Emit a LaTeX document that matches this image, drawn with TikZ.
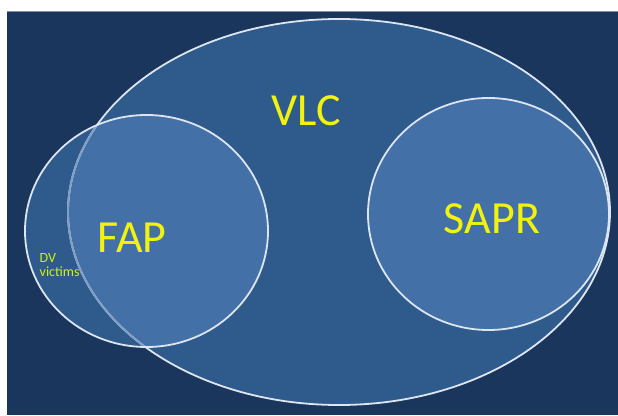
\documentclass[tikz,border=0pt]{standalone}
\usepackage{fontspec}
\setmainfont{Carlito}
\usepackage{tikz}

\definecolor{navybg}{HTML}{1A365D}
\definecolor{vlcblue}{HTML}{2F5A8C}
\definecolor{setblue}{HTML}{4470A8}
\definecolor{rimwhite}{HTML}{DCE5F0}
\definecolor{labelyellow}{HTML}{F2F20F}

\begin{document}
\begin{tikzpicture}[x=1pt, y=1pt,
    rim/.style={draw=rimwhite, line width=1.8pt},
    biglabel/.style={font=\fontsize{46}{50}\selectfont, text=labelyellow, inner sep=0pt},
    smalllabel/.style={font=\fontsize{14}{14.5}\selectfont, text=labelyellow!85!green, inner sep=0pt, align=left}]

\useasboundingbox (0,0) rectangle (618,415);

% Background panel
\fill[navybg] (7,0) rectangle (618,404);
\draw[navybg!55!white, line width=0.6pt] (7,404) -- (618,404);

% Set centres
\coordinate (vlc) at (339,203);
\coordinate (fap) at (146.5,184);
\coordinate (sapr) at (488.5,201);

% Fills: VLC first, then the two inner sets clipped to it
\fill[vlcblue] (fap) ellipse [x radius=121.5, y radius=116];
\fill[vlcblue] (vlc) ellipse [x radius=271, y radius=193];
\begin{scope}
    \clip (vlc) ellipse [x radius=271, y radius=193];
    \fill[setblue] (fap) ellipse [x radius=121.5, y radius=116];
    \fill[setblue] (sapr) ellipse [x radius=120.5, y radius=116];
\end{scope}

% Outlines (VLC rim fades where it runs under FAP)
\draw[rim] (vlc) ellipse [x radius=271, y radius=193];
\begin{scope}
    \clip (fap) ellipse [x radius=121.5, y radius=116];
    \draw[rim, draw=rimwhite!40!setblue] (vlc) ellipse [x radius=271, y radius=193];
\end{scope}
\draw[rim] (fap) ellipse [x radius=121.5, y radius=116];
\draw[rim] (sapr) ellipse [x radius=120.5, y radius=116];

% Labels
\node[biglabel] (vlclabel) at (306.5,304) {VLC};
\node[biglabel] (faplabel) at (132,177.5) {FAP};
\node[biglabel] (saprlabel) at (492,196) {SAPR};
\node[smalllabel, anchor=north west] (dvlabel) at (39.5,162) {DV\\victims};

\end{tikzpicture}
\end{document}
